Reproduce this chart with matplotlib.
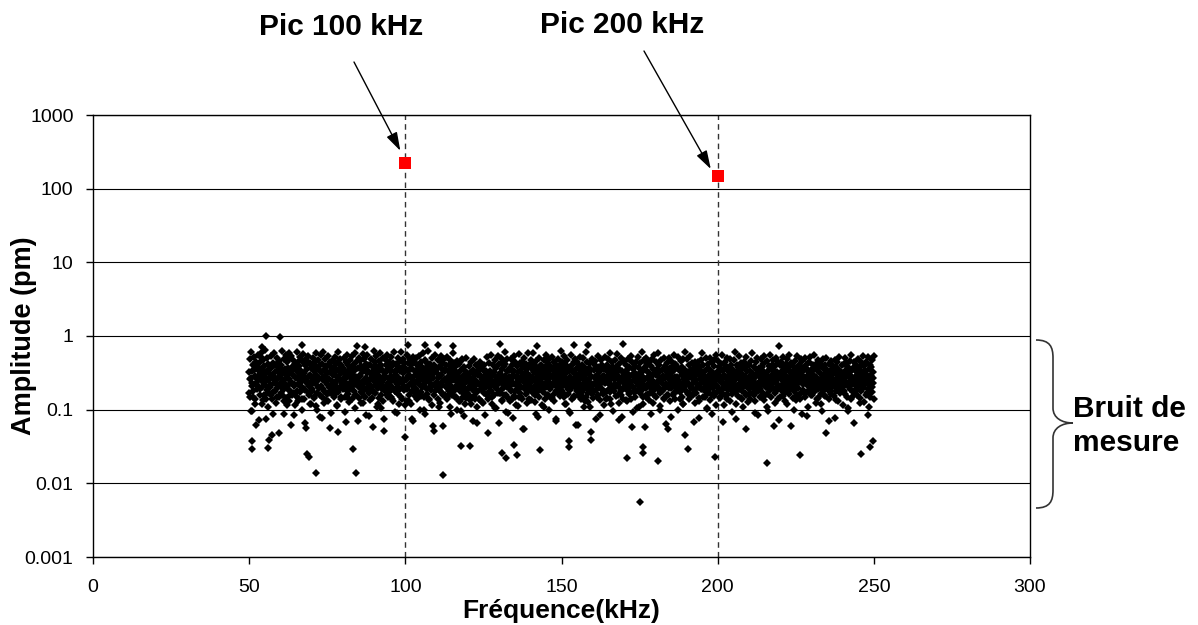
import numpy as np
import matplotlib.pyplot as plt
from matplotlib.path import Path
from matplotlib.patches import PathPatch

# Spectre d'amplitude : bruit de mesure entre 50 et 250 kHz, en fm.
# Deux balayages à pas régulier sur la même bande.
noise_start_khz = 50
noise_stop_khz = 250
noise_a_fm = [
    320, 150, 480, 270, 610, 95, 230, 410, 180, 350, 520, 140, 290, 440, 62, 380, 210, 560, 260, 330,
    450, 190, 300, 580, 120, 360, 240, 470, 160, 390, 280, 640, 210, 75, 340, 500, 170, 420, 250, 310,
    200, 530, 370, 140, 290, 430, 88, 260, 590, 320, 180, 400, 230, 510, 150, 350, 270, 460, 48, 380,
    280, 410, 170, 620, 240, 330, 490, 130, 360, 220, 550, 300, 115, 440, 190, 370, 260, 590, 160, 310,
    540, 230, 380, 160, 300, 470, 210, 85, 420, 270, 350, 600, 180, 320, 450, 140, 390, 250, 520, 200,
    340, 140, 460, 280, 570, 190, 310, 400, 66, 250, 480, 360, 220, 530, 170, 290, 430, 120, 370, 240,
    190, 390, 260, 510, 330, 150, 440, 230, 580, 300, 100, 360, 200, 470, 270, 410, 160, 320, 560, 78,
    420, 250, 600, 180, 350, 290, 480, 135, 390, 220, 310, 540, 170, 400, 260, 57, 450, 330, 210, 370,
    300, 470, 160, 380, 240, 520, 200, 340, 430, 112, 280, 610, 190, 360, 250, 490, 150, 410, 320, 230,
    260, 370, 500, 210, 92, 320, 450, 180, 560, 290, 400, 140, 350, 230, 470, 310, 190, 530, 270, 380,
    410, 220, 330, 590, 160, 280, 440, 250, 70, 370, 510, 200, 300, 460, 125, 390, 240, 350, 570, 180,
    230, 480, 150, 360, 270, 420, 310, 550, 190, 340, 83, 260, 400, 210, 490, 300, 145, 380, 250, 620,
    350, 170, 440, 290, 530, 200, 380, 120, 320, 460, 240, 580, 280, 105, 410, 190, 340, 500, 260, 52,
    490, 310, 210, 400, 160, 560, 270, 360, 230, 450, 330, 180, 520, 290, 390, 140, 430, 250, 600, 320,
    180, 420, 350, 90, 280, 510, 200, 380, 450, 260, 330, 600, 150, 370, 240, 480, 310, 210, 430, 115,
    370, 260, 560, 190, 330, 430, 130, 300, 490, 220, 410, 270, 360, 74, 520, 180, 290, 460, 240, 340,
    240, 500, 300, 410, 170, 360, 540, 250, 320, 155, 440, 200, 380, 590, 280, 98, 350, 230, 470, 310,
    440, 190, 380, 250, 620, 290, 140, 420, 330, 210, 500, 360, 60, 270, 400, 310, 180, 550, 230, 360,
    310, 360, 220, 470, 280, 108, 390, 180, 540, 300, 240, 430, 160, 350, 490, 260, 330, 210, 410, 140,
    520, 230, 340, 160, 400, 300, 470, 210, 88, 370, 280, 580, 190, 320, 430, 250, 150, 390, 300, 460,
    200, 310, 130, 420, 260, 180, 350, 95, 240, 470, 150, 290, 380, 220, 120, 330, 270, 510, 170, 250,
    280, 160, 390, 230, 135, 320, 440, 190, 260, 70, 350, 210, 480, 140, 300, 240, 400, 180, 110, 330,
    350, 220, 140, 300, 450, 190, 260, 370, 125, 230, 410, 170, 290, 85, 340, 200, 520, 250, 155, 310,
    260, 430, 180, 340, 230, 560, 150, 290, 400, 210, 320, 104, 470, 250, 370, 190, 280, 540, 220, 65,
    420, 170, 310, 500, 240, 360, 130, 450, 270, 200, 390, 290, 600, 160, 330, 480, 230, 90, 350, 280,
    190, 370, 480, 260, 140, 410, 300, 220, 530, 340, 180, 450, 115, 280, 390, 240, 320, 570, 150, 430,
    330, 260, 150, 440, 290, 380, 55, 240, 500, 310, 190, 420, 270, 360, 210, 580, 300, 140, 400, 230,
    470, 200, 360, 280, 590, 170, 330, 420, 250, 128, 310, 460, 220, 370, 80, 290, 510, 190, 340, 260,
    240, 400, 310, 190, 350, 470, 110, 280, 380, 230, 550, 160, 320, 430, 260, 200, 490, 360, 300, 145,
    380, 290, 520, 220, 160, 340, 440, 260, 75, 400, 300, 200, 480, 350, 180, 270, 410, 230, 620, 320,
    210, 450, 170, 360, 290, 530, 230, 120, 400, 310, 250, 470, 190, 340, 96, 380, 280, 560, 220, 330,
    350, 240, 420, 150, 310, 270, 490, 200, 360, 440, 180, 300, 62, 390, 250, 520, 330, 160, 410, 280,
    290, 500, 230, 380, 130, 340, 260, 610, 200, 450, 310, 170, 370, 240, 430, 108, 290, 350, 220, 480,
    430, 180, 350, 270, 460, 220, 390, 300, 150, 540, 260, 380, 210, 85, 330, 470, 190, 280, 410, 240,
    170, 360, 290, 520, 240, 140, 410, 330, 230, 480, 300, 190, 590, 260, 370, 120, 440, 210, 320, 380,
    340, 260, 470, 200, 380, 310, 570, 160, 290, 420, 72, 350, 240, 500, 180, 330, 270, 460, 140, 300,
    460, 220, 320, 135, 410, 270, 350, 490, 190, 300, 380, 240, 540, 210, 300, 440, 93, 360, 250, 180,
    250, 390, 180, 450, 300, 230, 520, 280, 110, 370, 200, 430, 320, 260, 600, 150, 340, 470, 210, 58,
    380, 160, 500, 270, 340, 420, 210, 310, 440, 250, 170, 390, 290, 480, 230, 360, 125, 310, 550, 200,
    300, 450, 240, 360, 190, 580, 280, 410, 98, 330, 260, 470, 180, 350, 290, 220, 510, 140, 390, 270,
    220, 340, 430, 160, 310, 260, 500, 230, 370, 80, 290, 450, 200, 390, 330, 560, 170, 280, 420, 250,
    410, 280, 190, 520, 250, 360, 140, 330, 460, 220, 300, 380, 118, 480, 260, 200, 350, 610, 240, 310,
    270, 480, 320, 230, 400, 170, 290, 540, 210, 350, 430, 260, 160, 370, 68, 310, 450, 230, 300, 390,
    350, 200, 440, 300, 130, 380, 260, 470, 330, 190, 580, 280, 410, 240, 340, 150, 500, 270, 360, 105,
    180, 420, 290, 360, 240, 510, 200, 340, 88, 440, 310, 230, 390, 170, 480, 300, 260, 550, 210, 330,
    460, 250, 380, 150, 330, 280, 420, 240, 560, 190, 350, 114, 300, 450, 220, 390, 270, 160, 500, 290,
    240, 370, 210, 490, 300, 400, 180, 270, 350, 230, 470, 320, 200, 600, 260, 75, 410, 340, 190, 380,
    320, 540, 260, 190, 430, 140, 360, 300, 250, 450, 210, 380, 290, 160, 520, 330, 240, 410, 128, 280,
    400, 230, 330, 460, 200, 310, 590, 260, 170, 380, 280, 90, 440, 220, 350, 500, 300, 180, 370, 240,
    190, 350, 480, 270, 380, 230, 150, 420, 320, 530, 250, 300, 200, 460, 110, 340, 270, 390, 220, 560,
    360, 260, 200, 410, 300, 470, 230, 340, 60, 280, 390, 180, 510, 250, 320, 440, 210, 300, 150, 400,
    280, 440, 330, 180, 520, 250, 370, 210, 300, 130, 420, 350, 240, 480, 270, 190, 380, 560, 230, 320,
    430, 210, 300, 390, 240, 100, 350, 460, 190, 310, 270, 540, 220, 370, 290, 410, 160, 330, 250, 480,
    250, 370, 460, 220, 330, 280, 500, 170, 400, 240, 82, 360, 300, 210, 450, 320, 260, 520, 190, 350,
    340, 190, 410, 300, 250, 550, 210, 360, 280, 430, 140, 330, 470, 230, 380, 200, 310, 118, 420, 270,
    210, 480, 280, 360, 160, 400, 310, 240, 510, 200, 350, 290, 420, 70, 330, 250, 460, 180, 300, 390,
    390, 260, 330, 210, 470, 230, 380, 135, 300, 440, 250, 360, 190, 520, 280, 340, 220, 410, 310, 240,
    300, 420, 180, 500, 270, 350, 240, 430, 310, 95, 380, 200, 290, 460, 230, 340, 560, 260, 150, 370,
    450, 230, 360, 280, 190, 410, 320, 260, 490, 210, 300, 380, 125, 350, 240, 440, 280, 200, 530, 310,
    260, 390, 220, 340, 440, 170, 300, 520, 250, 360, 110, 410, 290, 230, 380, 200, 470, 320, 270, 540,
]
noise_b_fm = [
    170, 260, 95, 340, 210, 150, 420, 280, 120, 230, 190, 380, 72, 300, 160, 250, 510, 200, 135, 320,
    240, 140, 310, 185, 108, 270, 360, 215, 160, 45, 290, 175, 230, 400, 125, 260, 195, 340, 150, 220,
    300, 205, 160, 255, 88, 190, 330, 145, 270, 210, 470, 130, 180, 240, 62, 350, 170, 225, 115, 280,
    155, 350, 225, 130, 290, 175, 240, 98, 200, 315, 140, 265, 185, 56, 230, 430, 160, 210, 300, 118,
    220, 180, 280, 145, 390, 235, 112, 170, 250, 195, 330, 80, 210, 150, 275, 190, 125, 360, 240, 165,
    265, 130, 205, 320, 170, 90, 245, 185, 440, 150, 225, 290, 115, 175, 50, 260, 200, 140, 310, 230,
    190, 310, 150, 235, 68, 280, 165, 215, 128, 370, 195, 250, 140, 300, 180, 105, 225, 160, 270, 210,
    145, 240, 290, 175, 210, 122, 330, 155, 260, 190, 85, 230, 410, 170, 135, 250, 195, 310, 58, 180,
    320, 170, 225, 110, 265, 195, 145, 380, 215, 160, 240, 130, 285, 75, 205, 175, 345, 150, 230, 190,
    210, 150, 340, 200, 132, 250, 178, 94, 300, 225, 165, 270, 118, 190, 235, 460, 140, 260, 185, 42,
    250, 195, 130, 285, 160, 215, 360, 120, 180, 240, 70, 205, 155, 330, 190, 140, 275, 220, 100, 170,
    175, 290, 210, 150, 245, 88, 195, 270, 165, 400, 135, 230, 185, 260, 115, 310, 160, 52, 220, 200,
    230, 140, 265, 190, 125, 300, 175, 215, 60, 250, 160, 355, 205, 145, 280, 180, 235, 110, 195, 270,
    160, 255, 180, 340, 210, 150, 98, 240, 190, 275, 130, 225, 480, 170, 205, 82, 265, 145, 310, 185,
    285, 200, 145, 230, 118, 260, 185, 320, 155, 210, 245, 66, 175, 295, 140, 220, 190, 375, 128, 240,
    195, 330, 225, 165, 270, 140, 48, 205, 250, 180, 310, 120, 235, 160, 200, 285, 105, 215, 170, 260,
    240, 170, 300, 135, 190, 225, 160, 420, 92, 255, 200, 145, 275, 215, 130, 180, 340, 78, 230, 155,
    150, 215, 185, 275, 112, 240, 330, 170, 205, 140, 260, 195, 55, 230, 165, 310, 125, 250, 185, 290,
    270, 135, 245, 190, 320, 160, 210, 86, 280, 180, 230, 150, 395, 200, 115, 265, 175, 220, 140, 205,
    205, 260, 160, 100, 235, 190, 290, 145, 215, 365, 130, 250, 180, 70, 225, 170, 300, 195, 155, 245,
    180, 295, 215, 150, 260, 120, 200, 340, 165, 235, 90, 185, 270, 140, 210, 155, 450, 230, 62, 190,
    255, 160, 230, 315, 140, 205, 175, 265, 110, 195, 300, 150, 220, 128, 245, 185, 270, 50, 210, 165,
    145, 220, 275, 185, 75, 250, 160, 205, 330, 135, 240, 190, 165, 290, 115, 230, 175, 260, 145, 385,
    230, 175, 140, 260, 205, 300, 95, 180, 225, 155, 270, 210, 350, 125, 195, 245, 160, 80, 280, 200,
    310, 195, 250, 130, 180, 225, 165, 285, 140, 240, 58, 200, 175, 310, 150, 265, 105, 215, 190, 235,
    170, 240, 185, 290, 120, 215, 260, 150, 198, 420, 165, 230, 135, 205, 88, 250, 180, 300, 160, 220,
    225, 150, 305, 200, 245, 170, 112, 235, 185, 270, 145, 190, 280, 64, 215, 160, 330, 195, 130, 255,
    195, 280, 160, 225, 350, 140, 210, 180, 255, 98, 230, 175, 205, 150, 295, 120, 240, 185, 45, 270,
    260, 165, 215, 140, 275, 195, 325, 160, 230, 185, 122, 250, 170, 380, 205, 145, 78, 225, 190, 300,
    150, 235, 290, 180, 210, 102, 245, 170, 300, 135, 220, 265, 160, 195, 240, 155, 285, 115, 210, 175,
    285, 190, 145, 250, 170, 230, 68, 205, 160, 275, 215, 140, 335, 185, 250, 130, 200, 165, 92, 240,
    205, 260, 175, 120, 300, 155, 225, 190, 410, 145, 240, 180, 110, 265, 170, 215, 54, 250, 195, 160,
    170, 140, 230, 285, 195, 250, 160, 130, 215, 180, 310, 84, 205, 240, 150, 290, 175, 220, 135, 265,
    245, 200, 165, 215, 95, 275, 185, 235, 150, 360, 195, 255, 125, 170, 230, 190, 140, 305, 72, 210,
    190, 320, 250, 155, 230, 175, 210, 290, 118, 200, 165, 245, 185, 60, 270, 145, 215, 180, 255, 135,
    275, 160, 195, 240, 140, 305, 170, 88, 220, 185, 265, 150, 230, 345, 175, 108, 250, 200, 160, 225,
    160, 230, 285, 175, 205, 125, 255, 190, 145, 240, 395, 165, 210, 96, 180, 235, 155, 270, 48, 195,
    230, 185, 140, 270, 165, 250, 210, 315, 155, 76, 200, 180, 260, 130, 225, 290, 170, 195, 240, 115,
    200, 270, 165, 225, 300, 150, 105, 235, 190, 210, 140, 280, 175, 250, 66, 215, 340, 160, 185, 245,
    255, 145, 210, 180, 240, 195, 330, 128, 225, 160, 270, 85, 190, 215, 150, 290, 205, 175, 230, 140,
]

# points isolés, hors de la bande dense
outlier_khz = [54.0, 55.3, 59.9, 66.8, 84.4, 87.1, 101.0, 106.3, 110.4, 115.4, 130.4, 142.3,
               154.1, 158.6, 169.8, 219.7,
               51.0, 51.0, 56.1, 56.4, 68.4, 69.0, 71.3, 83.3, 84.2, 112.2, 117.7, 120.7,
               131.0, 132.1, 134.8, 135.8, 143.1, 152.5, 152.5, 159.4, 170.9, 175.1, 176.0,
               176.0, 181.0, 184.2, 190.4, 199.0, 215.7, 226.4, 245.9, 248.8, 249.8]
outlier_pm = [0.72, 1.0, 0.96, 0.75, 0.73, 0.72, 0.75, 0.75, 0.75, 0.73, 0.79, 0.73,
              0.75, 0.75, 0.79, 0.73,
              0.029, 0.037, 0.030, 0.039, 0.025, 0.023, 0.014, 0.029, 0.014, 0.013, 0.032, 0.032,
              0.026, 0.022, 0.033, 0.024, 0.028, 0.031, 0.038, 0.039, 0.022, 0.0055, 0.031,
              0.026, 0.020, 0.055, 0.029, 0.023, 0.019, 0.024, 0.025, 0.031, 0.038]

# pics d'excitation
peak_khz = [100, 200]
peak_pm = [220, 148]
peak_labels = ["Pic 100 kHz", "Pic 200 kHz"]

x_ticks = [0, 50, 100, 150, 200, 250, 300]
y_ticks = [0.001, 0.01, 0.1, 1, 10, 100, 1000]
y_tick_labels = ["0.001", "0.01", "0.1", "1", "10", "100", "1000"]

plt.rcParams['font.family'] = ['Liberation Sans', 'DejaVu Sans']

W, H = 1198, 625


def px(x, y):
    # pixels (origine en haut à gauche) -> fraction de figure
    return x / W, 1 - y / H


fig = plt.figure(figsize=(W / 100, H / 100), dpi=100)
ax = fig.add_axes([93 / W, 1 - 557 / H, 937 / W, 442 / H])

noise_khz = np.concatenate([np.linspace(noise_start_khz, noise_stop_khz, len(noise_a_fm)),
                            np.linspace(noise_start_khz, noise_stop_khz, len(noise_b_fm))])
noise_pm = np.array(noise_a_fm + noise_b_fm) / 1000.0

for f in peak_khz:
    ax.axvline(f, color='#333333', lw=1, ls=(0, (4, 3)), zorder=1)
ax.plot(noise_khz, noise_pm, ls='none', marker='D', ms=4.3, color='black', mew=0, zorder=3)
ax.plot(outlier_khz, outlier_pm, ls='none', marker='D', ms=4.0, color='black', mew=0, zorder=3)
ax.plot(peak_khz, peak_pm, ls='none', marker='s', ms=9, color='red', mew=0, zorder=4)

ax.set_yscale('log')
ax.set_xlim(0, 300)
ax.set_ylim(0.001, 1000)
ax.set_xticks(x_ticks)
ax.set_yticks(y_ticks)
ax.set_yticklabels(y_tick_labels)
ax.yaxis.set_minor_locator(plt.NullLocator())
ax.grid(axis='y', color='black', lw=0.8)
ax.set_axisbelow(True)
ax.tick_params(direction='out', length=5, width=1, labelsize=14, colors='black')
ax.tick_params(axis='x', pad=11)
ax.tick_params(axis='y', pad=9)
for s in ax.spines.values():
    s.set_linewidth(1)

ax.set_xlabel('Fréquence(kHz)', fontsize=19, fontweight='bold')
ax.set_ylabel('Amplitude (pm)', fontsize=19.5, fontweight='bold')
ax.xaxis.set_label_coords(0.5, -0.095)
ax.yaxis.set_label_coords(-0.060, 0.5)

# étiquettes des pics avec flèches
label_pos = [(341, 27), (622, 25)]
arrow_start = [(354, 62), (644, 51)]
arrow_tip = [(98.4, 327), (197.8, 185)]
for label, (tx, ty), (sx, sy), tip in zip(peak_labels, label_pos, arrow_start, arrow_tip):
    fig.text(*px(tx, ty), label, ha='center', va='center', fontsize=21.5, fontweight='bold')
    ax.annotate('', xy=tip, xycoords='data', xytext=px(sx, sy), textcoords='figure fraction',
                arrowprops=dict(arrowstyle='-|>,head_length=0.8,head_width=0.25', color='black',
                                lw=1, mutation_scale=14, shrinkA=0, shrinkB=0))

# accolade "bruit de mesure"
brace_pts = [(1036, 340), (1050, 340), (1053, 347), (1053, 358), (1053, 408),
             (1053, 418), (1062, 423), (1073, 423), (1062, 423), (1053, 428), (1053, 438),
             (1053, 490), (1053, 501), (1050, 508), (1036, 508)]
codes = ([Path.MOVETO] + [Path.CURVE4] * 3 + [Path.LINETO] + [Path.CURVE4] * 6
         + [Path.LINETO] + [Path.CURVE4] * 3)
brace = Path([px(x, y) for x, y in brace_pts], codes)
fig.patches.append(PathPatch(brace, transform=fig.transFigure, fill=False,
                             edgecolor='#333333', lw=1.2))
fig.text(*px(1073, 417), 'Bruit de', ha='left', va='baseline', fontsize=21.5, fontweight='bold')
fig.text(*px(1073, 451), 'mesure', ha='left', va='baseline', fontsize=21.5, fontweight='bold')

fig.savefig('out.png', dpi=100)
